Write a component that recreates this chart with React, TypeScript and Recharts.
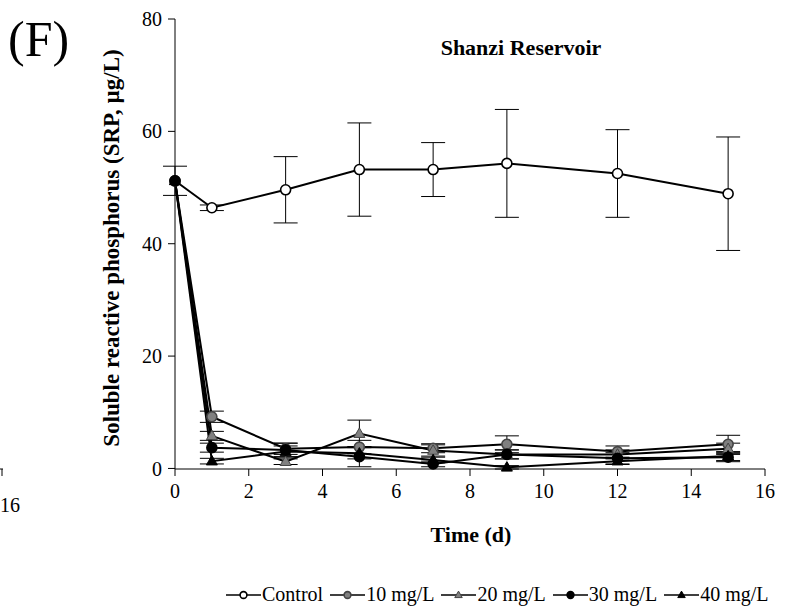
import React from "react";
import {
  LineChart, Line, XAxis, YAxis, ErrorBar,
} from "recharts";

// sampling days
const days = [0, 1, 3, 5, 7, 9, 12, 15];

// SRP (µg/L) per treatment
const control = [51.2, 46.4, 49.6, 53.2, 53.2, 54.3, 52.5, 48.9];
const controlErr = [2.6, 0.5, 5.9, 8.3, 4.8, 9.6, 7.8, 10.1];
const mg10 = [51.2, 9.2, 3.5, 3.8, 3.6, 4.3, 3.0, 4.3];
const mg10Err = [0, 1.0, 1.0, 1.2, 0.8, 1.5, 1.0, 1.6];
const mg20 = [51.2, 5.8, 1.2, 6.2, 3.2, 2.5, 2.5, 3.5];
const mg20Err = [0, 0.8, 0.5, 2.4, 1.0, 0.8, 0.8, 1.0];
const mg30 = [51.2, 3.7, 3.3, 2.1, 0.8, 2.5, 1.8, 2.0];
const mg30Err = [0, 0.8, 1.2, 1.8, 0.5, 0.8, 1.0, 0.8];
const mg40 = [51.2, 1.3, 3.0, 2.7, 1.5, 0.2, 1.3, 2.2];
const mg40Err = [0, 0.5, 1.0, 1.0, 0.5, 0.3, 0.6, 0.8];

const xTicks = [0, 2, 4, 6, 8, 10, 12, 14, 16];
const yTicks = [0, 20, 40, 60, 80];

const data = days.map((d, i) => ({
  day: d,
  control: control[i], controlErr: controlErr[i],
  mg10: mg10[i], mg10Err: mg10Err[i],
  mg20: mg20[i], mg20Err: mg20Err[i],
  mg30: mg30[i], mg30Err: mg30Err[i],
  mg40: mg40[i], mg40Err: mg40Err[i],
}));

const FONT = "Liberation Serif, Times New Roman, serif";

type Shape = "circle" | "triangle";

function Marker({ cx, cy, shape, fill, stroke, r }: {
  cx: number; cy: number; shape: Shape; fill: string; stroke: string; r: number;
}) {
  if (shape === "triangle") {
    const h = r * 1.9;
    const w = r * 2.2;
    const pts = `${cx},${cy - h * 0.6} ${cx - w / 2},${cy + h * 0.4} ${cx + w / 2},${cy + h * 0.4}`;
    return <polygon points={pts} fill={fill} stroke={stroke} strokeWidth={1} />;
  }
  return <circle cx={cx} cy={cy} r={r} fill={fill} stroke={stroke} strokeWidth={1.6} />;
}

const series = [
  { key: "control", err: "controlErr", name: "Control", shape: "circle" as Shape, fill: "#fff", stroke: "#000" },
  { key: "mg10", err: "mg10Err", name: "10 mg/L", shape: "circle" as Shape, fill: "#808080", stroke: "#444" },
  { key: "mg20", err: "mg20Err", name: "20 mg/L", shape: "triangle" as Shape, fill: "#808080", stroke: "#444" },
  { key: "mg30", err: "mg30Err", name: "30 mg/L", shape: "circle" as Shape, fill: "#000", stroke: "#000" },
  { key: "mg40", err: "mg40Err", name: "40 mg/L", shape: "triangle" as Shape, fill: "#000", stroke: "#000" },
];

function LegendRow() {
  return (
    <div style={{
      position: "absolute", left: 226, top: 583, display: "flex", alignItems: "center",
      fontFamily: FONT, fontSize: 20, color: "#000", whiteSpace: "nowrap",
    }}>
      {series.map((s, i) => (
        <div key={s.key} style={{ display: "flex", alignItems: "center", marginLeft: i === 0 ? 0 : 7 }}>
          <svg width={35} height={14}>
            <line x1={0} y1={7} x2={35} y2={7} stroke="#000" strokeWidth={1.3} />
            <Marker cx={17.5} cy={7} shape={s.shape} fill={s.fill} stroke={s.stroke} r={3.4} />
          </svg>
          <span style={{ marginLeft: 1 }}>{s.name}</span>
        </div>
      ))}
    </div>
  );
}

export default function App() {
  return (
    <div style={{ position: "absolute", left: 0, top: 0, width: 788, height: 611, background: "#fff", overflow: "hidden" }}>
      <LineChart
        width={788}
        height={611}
        data={data}
        margin={{ top: 19, right: 23, bottom: 102, left: 115 }}
      >
        <XAxis
          dataKey="day"
          type="number"
          domain={[0, 16]}
          ticks={xTicks}
          height={40}
          tickSize={7}
          tickMargin={8}
          axisLine={{ stroke: "#000", strokeWidth: 1 }}
          tickLine={{ stroke: "#000", strokeWidth: 1 }}
          tick={{ fill: "#000", fontSize: 20, fontFamily: FONT }}
          interval={0}
        />
        <YAxis
          type="number"
          domain={[0, 80]}
          ticks={yTicks}
          width={60}
          tickSize={7}
          tickMargin={6}
          axisLine={{ stroke: "#000", strokeWidth: 1 }}
          tickLine={{ stroke: "#000", strokeWidth: 1 }}
          tick={{ fill: "#000", fontSize: 20, fontFamily: FONT }}
          interval={0}
        />
        {series.map((s) => (
          <Line
            key={s.key}
            dataKey={s.key}
            name={s.name}
            stroke="#000"
            strokeWidth={2}
            isAnimationActive={false}
            dot={(p: any) => (
              <Marker key={`${s.key}-${p.index}`} cx={p.cx} cy={p.cy} shape={s.shape} fill={s.fill} stroke={s.stroke} r={5} />
            )}
            activeDot={false}
          >
            <ErrorBar dataKey={s.err} direction="y" width={12} stroke="#000" strokeWidth={1} />
          </Line>
        ))}
        <text x={521} y={55} textAnchor="middle" fontFamily={FONT} fontSize={22} fontWeight="bold" fill="#000">
          Shanzi Reservoir
        </text>
        <text x={8} y={56} fontFamily={FONT} fontSize={50} fill="#000">(F)</text>
        <text
          x={114}
          y={248}
          textAnchor="middle"
          fontFamily={FONT}
          fontSize={23}
          fontWeight="bold"
          fill="#000"
          transform="rotate(-90 114 248)"
          dominantBaseline="middle"
        >
          Soluble reactive phosphorus (SRP, µg/L)
        </text>
        <text x={471} y={542} textAnchor="middle" fontFamily={FONT} fontSize={22} fontWeight="bold" fill="#000">
          Time (d)
        </text>
        <line x1={0} y1={469} x2={3} y2={469} stroke="#000" />
        <line x1={2} y1={469} x2={2} y2={476} stroke="#000" />
        <text x={0} y={512} fontFamily={FONT} fontSize={20} fill="#000">16</text>
      </LineChart>
      <LegendRow />
    </div>
  );
}
